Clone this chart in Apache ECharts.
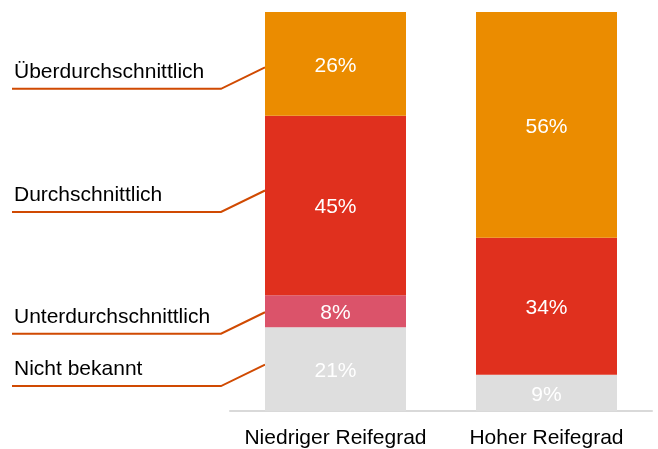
<!DOCTYPE html>
<html>
<head>
<meta charset="utf-8">
<script src="https://cdn.jsdelivr.net/npm/echarts@6/dist/echarts.min.js"></script>
<style>
html, body { margin: 0; padding: 0; background: #fff; }
#main { width: 658px; height: 449px; }
</style>
</head>
<body>
<div id="main"></div>
<script>
// 数据
var categories = ['Niedriger Reifegrad', 'Hoher Reifegrad'];
var seriesNames = ['Nicht bekannt', 'Unterdurchschnittlich', 'Durchschnittlich', 'Überdurchschnittlich'];
var nichtBekannt = [21, 9];
var unterdurchschnittlich = [8, 0];
var durchschnittlich = [45, 34];
var ueberdurchschnittlich = [26, 56];

var values = [nichtBekannt, unterdurchschnittlich, durchschnittlich, ueberdurchschnittlich];
var colors = ['#dedede', '#db536a', '#e0301e', '#eb8c00'];
var font = 'Arial, "Liberation Sans", sans-serif';

// 每根柱子拉满到 100（右边加起来只有 99）
var totals = categories.map(function (c, j) {
  return values.reduce(function (s, arr) { return s + arr[j]; }, 0);
});

var chartDom = document.getElementById('main');
var myChart = echarts.init(chartDom);
var option;

option = {
  animation: false,
  grid: { left: 230, right: 6, top: 12, bottom: 38 },
  xAxis: {
    type: 'category',
    data: categories,
    axisLine: { lineStyle: { color: '#d9d9d9', width: 2 } },
    axisTick: { show: false },
    axisLabel: { interval: 0, color: '#000', fontSize: 21, fontFamily: font, margin: 17 }
  },
  yAxis: { type: 'value', min: 0, max: 100, show: false },
  series: values.map(function (arr, i) {
    return {
      name: seriesNames[i],
      type: 'bar',
      stack: 'all',
      barWidth: 141,
      itemStyle: { color: colors[i] },
      label: {
        show: true,
        position: 'inside',
        offset: [0, 2],
        color: '#fff',
        fontSize: 21,
        fontFamily: font,
        formatter: function (p) {
          return arr[p.dataIndex] ? arr[p.dataIndex] + '%' : '';
        }
      },
      data: arr.map(function (v, j) { return v / totals[j] * 100; })
    };
  })
};

option && myChart.setOption(option);

// 左边的标签和引线
var leaderShift = [-4.5, 1, -15, 3.5];
var barLeft = myChart.convertToPixel({ seriesIndex: 0 }, [0, 0])[0] - 141 / 2;
var elements = [];
var cum = 0;
seriesNames.forEach(function (name, i) {
  var share = option.series[i].data[0];
  var yMid = myChart.convertToPixel({ seriesIndex: i }, [0, cum + share / 2])[1];
  cum += share;
  var yEnd = yMid + leaderShift[i];
  var yLine = yEnd + 21.5;
  elements.push({
    type: 'polyline',
    silent: true,
    shape: { points: [[12, yLine], [barLeft - 44, yLine], [barLeft, yEnd]] },
    style: { stroke: '#d04a02', lineWidth: 2, fill: null }
  });
  elements.push({
    type: 'text',
    silent: true,
    x: 14,
    y: yLine - 6,
    style: { text: name, fontSize: 21, fontFamily: font, fill: '#000', verticalAlign: 'bottom' }
  });
});
myChart.setOption({ graphic: elements });
</script>
</body>
</html>
